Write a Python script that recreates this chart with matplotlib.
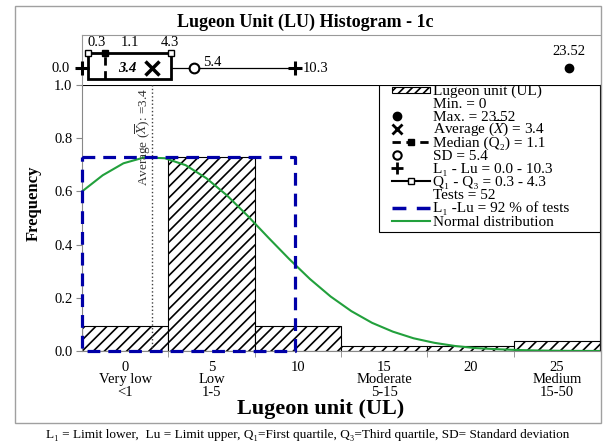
import matplotlib
matplotlib.use("Agg")
import matplotlib.pyplot as plt
import numpy as np
from matplotlib.patches import Rectangle

# histogram classes (Lugeon categories) and relative frequency
categories = ['0\nVery low\n<1', '5\nLow\n1-5', '10', '15\nModerate\n5-15', '20', '25\nMedium\n15-50']
frequency = [0.096, 0.731, 0.096, 0.019, 0.019, 0.038]

# summary statistics
lu_min = 0.0
q1 = 0.3
median = 1.1
average = 3.4
q3 = 4.3
sd = 5.4
l_upper = 10.3
lu_max = 23.52
tests = 52
within_pct = 92

# normal distribution curve
normal_x = [0, 1, 2, 3, 4, 5, 6, 7, 8, 9, 10, 11, 12, 13, 14, 15, 16, 17, 18, 19, 20, 21, 22, 23, 24, 25]
normal_y = [0.600, 0.661, 0.706, 0.728, 0.725, 0.699, 0.650, 0.585, 0.508, 0.426, 0.346, 0.271, 0.205,
            0.150, 0.106, 0.073, 0.048, 0.031, 0.019, 0.011, 0.007, 0.004, 0.002, 0.001, 0.0005, 0.0002]

plt.rcParams['font.family'] = ['Liberation Serif', 'DejaVu Serif']
plt.rcParams['mathtext.fontset'] = 'stix'
plt.rcParams['hatch.linewidth'] = 1.2

x_max = 25.0
blue = '#0000A8'
green = '#22A03C'

fig = plt.figure(figsize=(6.03, 4.41), dpi=100)
ax = fig.add_axes([0.136, 0.204, 0.859, 0.603])
axb = fig.add_axes([0.136, 0.807, 0.859, 0.113])

# --- histogram ---
width = x_max / len(categories)
edges = np.arange(len(categories)) * width
ax.bar(edges, frequency, width=width, align='edge', facecolor='white',
       edgecolor='k', hatch='///', linewidth=0.8, zorder=2)
ax.plot(normal_x, normal_y, color=green, lw=1.5, zorder=3)
top = max(frequency)
ax.plot([lu_min, l_upper, l_upper, lu_min, lu_min], [top, top, 0, 0, top],
        color=blue, lw=2.3, ls=(0, (4, 2.5)), zorder=4, clip_on=False)
ax.axvline(average, color='#404040', lw=1, ls=':', zorder=3)
ax.text(average - 0.45, 0.99, r'Average ($\overline{X}$): =3.4', rotation=90,
        ha='center', va='top', fontsize=9.5, color='#333333')

ax.set_xlim(0, x_max)
ax.set_ylim(0, 1.0)
ax.set_xticks(edges + width / 2)
ax.set_xticklabels(categories, fontsize=10.5)
for lbl in ax.get_xticklabels():
    lbl.set_linespacing(0.95)
ax.set_xticks(list(edges[1:]), minor=True)
ax.tick_params(axis='x', which='major', length=0, pad=7)
ax.tick_params(axis='x', which='minor', length=4, color='#888888', direction='out')
ax.set_yticks([0, 0.2, 0.4, 0.6, 0.8, 1.0])
ax.set_yticklabels(['0.0', '0.2', '0.4', '0.6', '0.8', '1.0'], fontsize=10.5)
ax.tick_params(axis='y', length=4, color='#888888', pad=3)
for s in ['left', 'bottom']:
    ax.spines[s].set_color('#888888')
for s in ['top', 'right']:
    ax.spines[s].set_color('k')
for s in ax.spines.values():
    s.set_linewidth(0.8)

ax.set_ylabel('Frequency', fontsize=12, fontweight='bold')
ax.yaxis.set_label_coords(-0.077, 0.556)

# --- legend, laid out row by row (Excel style tight rows) ---
legend_rows = [
    ('Lugeon unit (UL)', 'patch', dict(facecolor='white', edgecolor='k', hatch='////', lw=0.8)),
    ('Min. = %g' % lu_min, 'none', {}),
    ('Max. = %.2f' % lu_max, 'marker', dict(marker='o', color='k', ms=6)),
    (r'Average ($\overline{X}$) = %.1f' % average, 'marker', dict(marker='x', color='k', ms=7, mew=2)),
    ('Median (Q₂) = %.1f' % median, 'line', dict(ls=(0, (3, 2)), color='k', lw=2, marker='s', ms=4)),
    ('SD = %.1f' % sd, 'marker', dict(marker='o', mfc='white', mec='k', ms=6, mew=1.5)),
    ('L₁ - Lu = %.1f - %.1f' % (lu_min, l_upper), 'marker', dict(marker='+', color='k', ms=8, mew=2)),
    ('Q₁ - Q₃ = %.1f - %.1f' % (q1, q3), 'line',
     dict(ls='-', color='k', lw=1.5, marker='s', mfc='white', mec='k', ms=5)),
    ('Tests = %d' % tests, 'none', {}),
    ('L₁ -Lu = %d %% of tests' % within_pct, 'line', dict(ls=(0, (4, 3)), color=blue, lw=2.5)),
    ('Normal distribution', 'line', dict(ls='-', color=green, lw=1.5)),
]
ax.add_patch(Rectangle((0.573, 0.447), 0.427, 0.553, transform=ax.transAxes,
                       facecolor='white', edgecolor='k', lw=0.8, zorder=5, clip_on=False))
lx0, lx1 = 0.598, 0.672
lxc = (lx0 + lx1) / 2
lxm = 0.608
ltx = 0.678
ly0, ldy = 0.982, 0.0492
for i, (label, kind, style) in enumerate(legend_rows):
    y = ly0 - i * ldy
    common = dict(transform=ax.transAxes, zorder=6, clip_on=False)
    if kind == 'patch':
        ax.add_patch(Rectangle((lx0, y - 0.011), lx1 - lx0, 0.022, **common, **style))
    elif kind == 'line':
        st = dict(style)
        mk = st.pop('marker', None)
        mkst = {k: st.pop(k) for k in list(st) if k in ('mfc', 'mec', 'ms', 'mew')}
        ax.plot([lx0, lx1], [y, y], **common, **st)
        if mk:
            ax.plot([lxc], [y], ls='none', marker=mk, color=st['color'], **common, **mkst)
    elif kind == 'marker':
        ax.plot([lxm], [y], ls='none', **common, **style)
    ax.text(ltx, y - 0.018, label, ha='left', va='baseline', fontsize=11, zorder=7,
            transform=ax.transAxes)

# --- box plot strip ---
box_lo, box_hi, mid = 0.12, 0.64, 0.34
axb.set_xlim(0, x_max)
axb.set_ylim(0, 1)
axb.set_xticks([])
axb.set_yticks([])
for s in ['bottom', 'right']:
    axb.spines[s].set_visible(False)
for s in ['top', 'left']:
    axb.spines[s].set_color('#999999')
    axb.spines[s].set_linewidth(0.8)

axb.plot([lu_min, q1], [mid, mid], color='k', lw=0.9, clip_on=False)
axb.plot([q3, l_upper], [mid, mid], color='k', lw=0.9)
axb.add_patch(Rectangle((q1, box_lo), q3 - q1, box_hi - box_lo, fill=False, ec='k', lw=2))
axb.plot([median, median], [box_lo, box_hi], color='k', lw=2, ls=(0, (3, 2)))
axb.plot([q1, q3], [box_hi, box_hi], ls='none', marker='s', mfc='white', mec='k', ms=5, mew=1, zorder=5)
axb.plot([median], [box_hi], ls='none', marker='s', color='k', ms=4, zorder=5)
axb.plot([average], [mid], ls='none', marker='x', color='k', ms=10, mew=2.5)
axb.plot([sd], [mid], ls='none', marker='o', mfc='white', mec='k', ms=7, mew=1.5, zorder=5)
axb.plot([lu_min, l_upper], [mid, mid], ls='none', marker='+', color='k', ms=10, mew=2.2,
         clip_on=False, zorder=5)
axb.plot([lu_max], [mid], ls='none', marker='o', color='k', ms=6)

axb.text(-0.6, mid, '%.1f' % lu_min, ha='right', va='center', fontsize=10.5)
axb.text(0.25, 0.86, '%.1f' % q1, ha='left', va='center', fontsize=10.5)
axb.text(2.3, 0.86, '%.1f' % median, ha='center', va='center', fontsize=10.5)
axb.text(4.25, 0.86, '%.1f' % q3, ha='center', va='center', fontsize=10.5)
axb.text(2.65, mid, '%.1f' % average, ha='right', va='center', fontsize=10.5,
         fontstyle='italic', fontweight='bold')
axb.text(5.85, 0.46, '%.1f' % sd, ha='left', va='center', fontsize=10.5)
axb.text(10.65, mid, '%.1f' % l_upper, ha='left', va='center', fontsize=10.5)
axb.text(lu_max, 0.68, '%.2f' % lu_max, ha='center', va='center', fontsize=10.5)

# --- figure texts and frame ---
fig.text(0.506, 0.95, 'Lugeon Unit (LU) Histogram - 1c', ha='center', va='center',
         fontsize=13, fontweight='bold')
fig.text(0.531, 0.073, 'Lugeon unit (UL)', ha='center', va='center',
         fontsize=16, fontweight='bold')
fig.text(0.51, 0.014, 'L₁ = Limit lower,  Lu = Limit upper, Q₁=First quartile, '
         'Q₃=Third quartile, SD= Standard deviation', ha='center', va='center', fontsize=9.5)
fig.add_artist(Rectangle((15 / 603, 1 - 423 / 441), (601 - 15) / 603, (423 - 6) / 441,
                         transform=fig.transFigure, fill=False, ec='#a0a0a0', lw=1))

fig.savefig('out.png', dpi=100)
